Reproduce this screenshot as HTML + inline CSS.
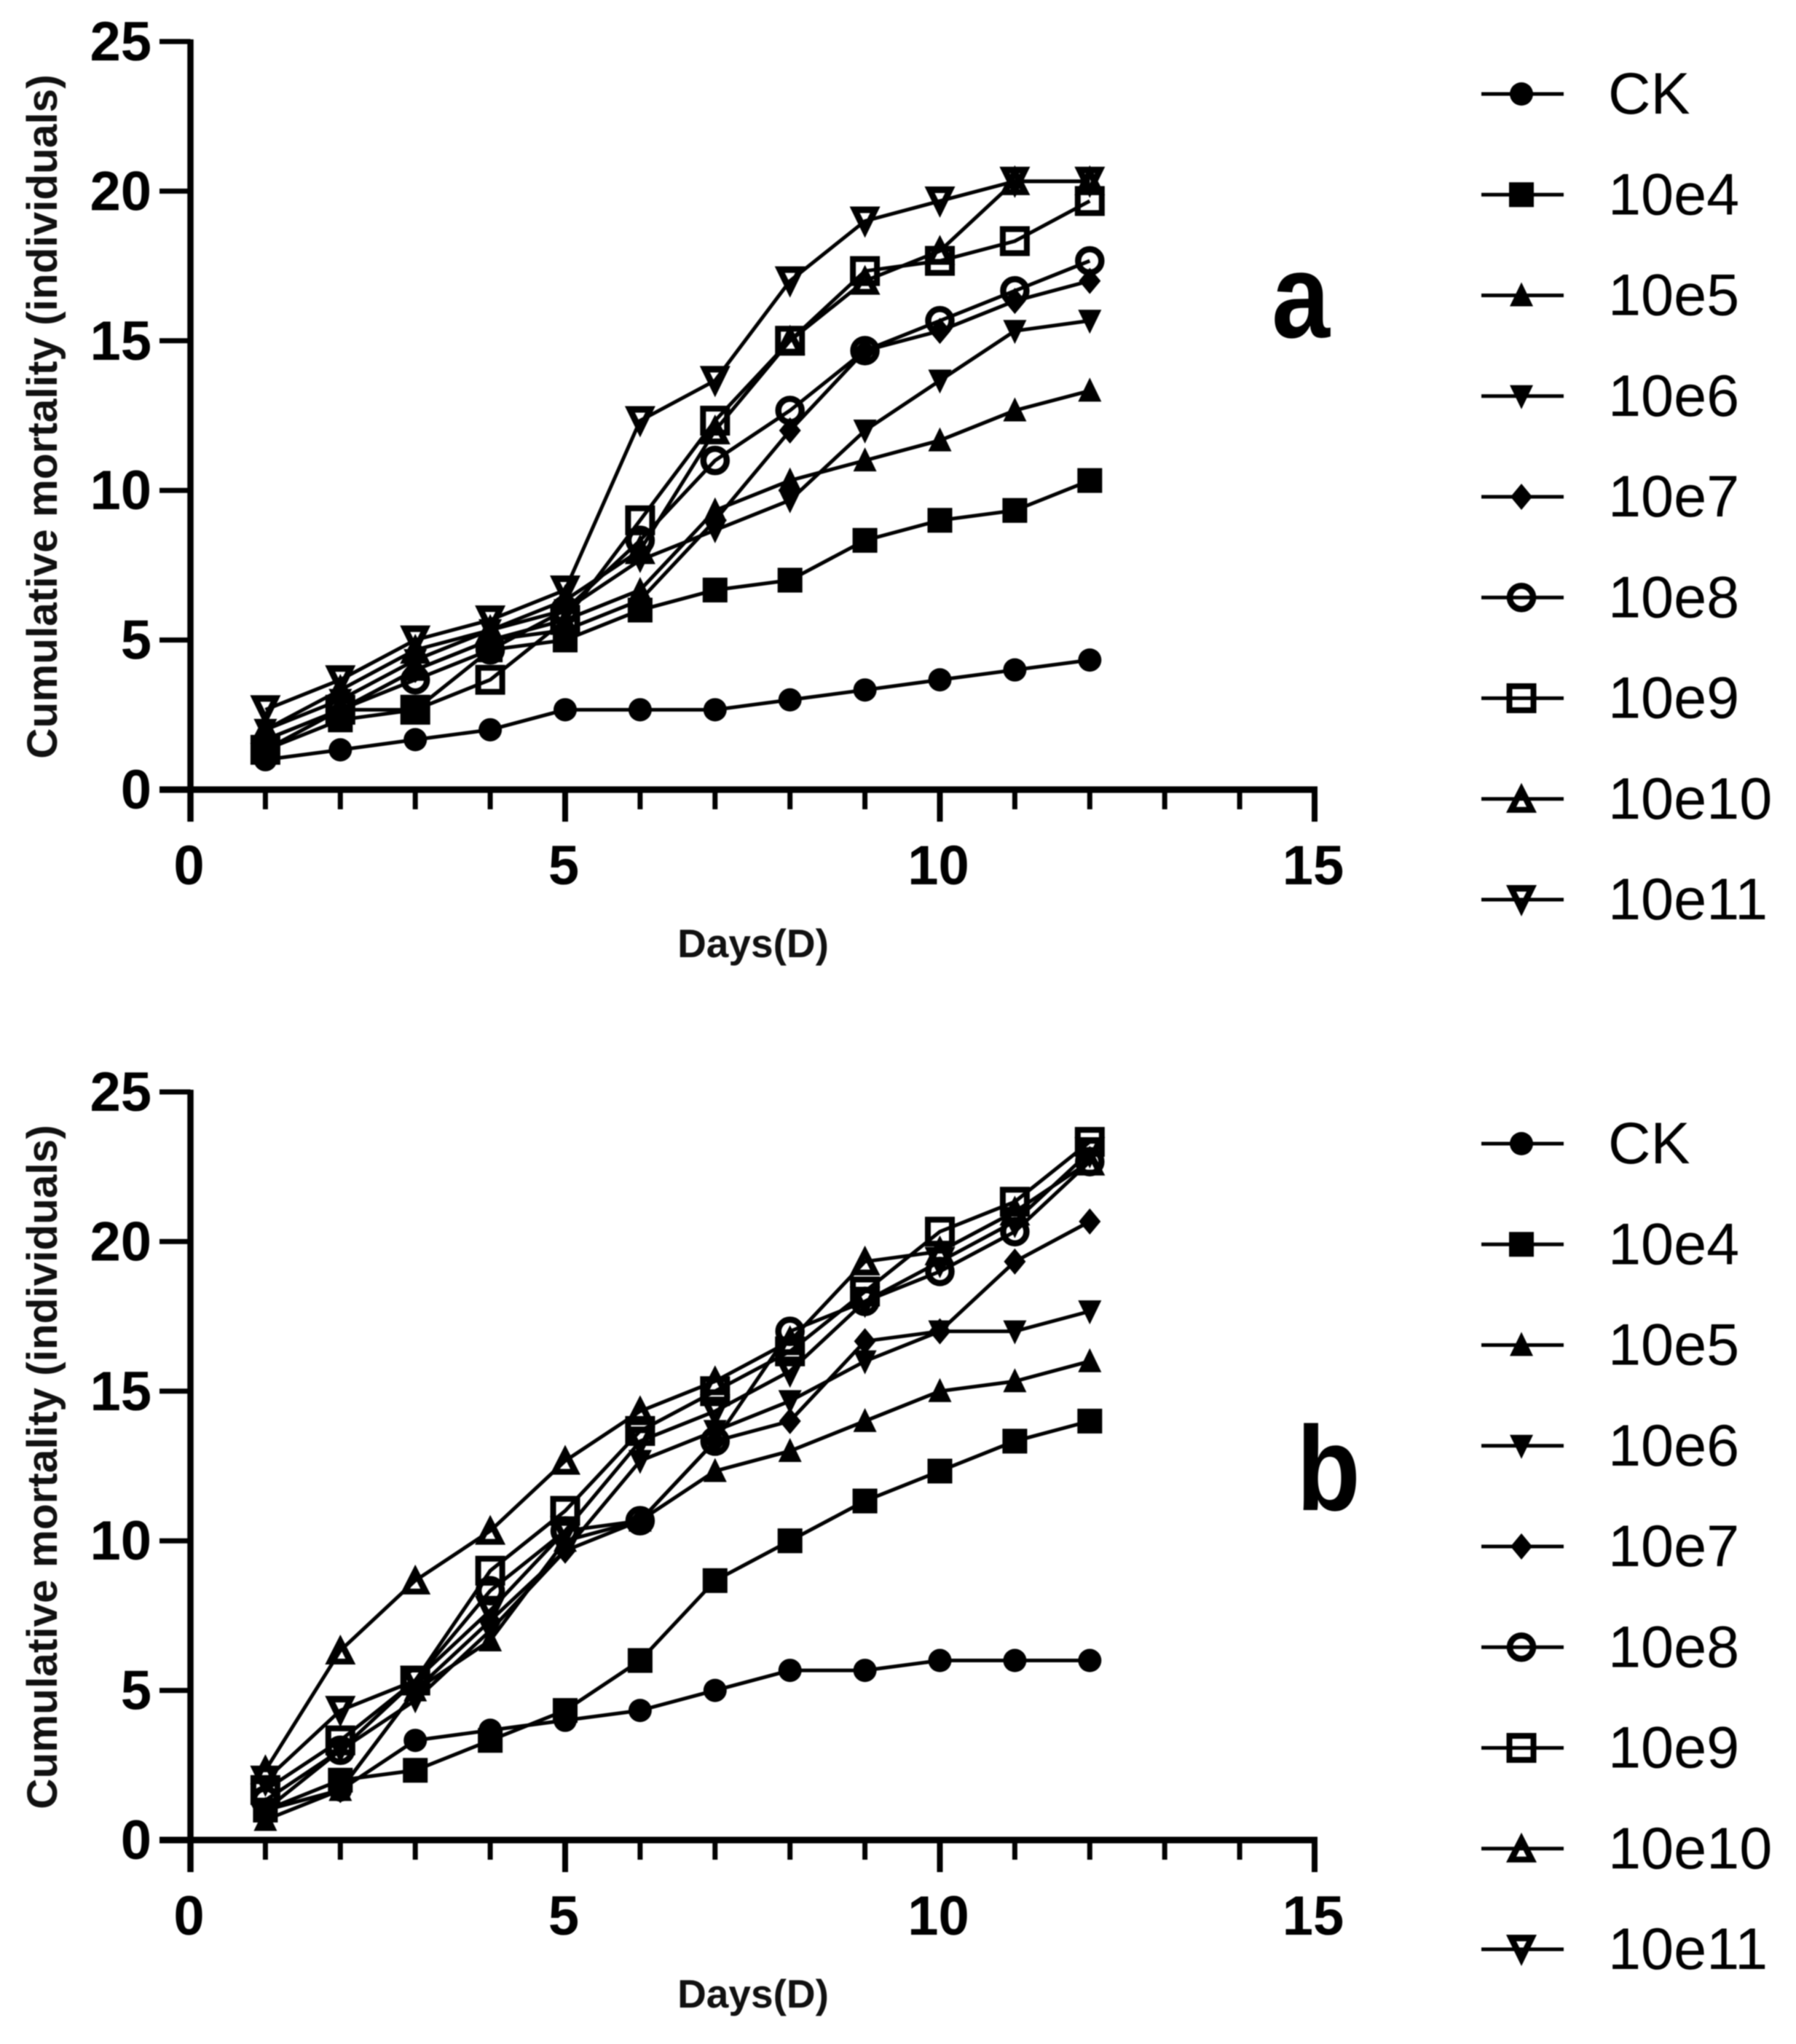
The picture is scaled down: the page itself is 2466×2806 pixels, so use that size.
<!DOCTYPE html>
<html lang="en">
<head>
<meta charset="utf-8">
<title>Cumulative mortality charts</title>
<style>
html,body{margin:0;padding:0;background:#fff;}
svg{display:block;font-family:"Liberation Sans",sans-serif;filter:blur(0.7px);}
</style>
</head>
<body>
<svg id="figure" xmlns="http://www.w3.org/2000/svg" width="2466" height="2806" viewBox="0 0 2466 2806">
<rect width="2466" height="2806" fill="#fff"/>
</svg>
<script>
// Shared categories and tick labels
const days = [1,2,3,4,5,6,7,8,9,10,11,12];
const seriesNames = ["CK","10e4","10e5","10e6","10e7","10e8","10e9","10e10","10e11"];
const xMajorTicks = [0,5,10,15];
const xMinorTicks = [1,2,3,4,6,7,8,9,11,12,13,14];
const yTicks = [0,5,10,15,20,25];

// Panel a values
const aCK    = [1,1.33,1.67,2,2.67,2.67,2.67,3,3.33,3.67,4,4.33];
const a10e4  = [1.33,2.33,2.67,4.67,5,6,6.67,7,8.33,9,9.33,10.33];
const a10e5  = [1.67,2.67,4,5,5.67,6.67,9.33,10.33,11,11.67,12.67,13.33];
const a10e6  = [2,3,4.33,5.33,6,7.67,8.67,9.67,12,13.67,15.33,15.67];
const a10e7  = [1.67,2.67,4,5,5.33,6.33,9,12,14.67,15.33,16.33,17];
const a10e8  = [1.33,2.67,3.67,4.67,6,8.33,11,12.67,14.67,15.67,16.67,17.67];
const a10e9  = [1.33,2.67,2.67,3.67,5.67,9,12.33,15,17.33,17.67,18.33,19.67];
const a10e10 = [2,3.33,4.67,5.33,6.33,8,12,15,17,18,20.33,20.33];
const a10e11 = [2.67,3.67,5,5.67,6.67,12.33,13.67,17,19,19.67,20.33,20.33];

// Panel b values
const bCK    = [1,1.67,3.33,3.67,4,4.33,5,5.67,5.67,6,6,6];
const b10e4  = [1,2,2.33,3.33,4.33,6,8.67,10,11.33,12.33,13.33,14];
const b10e5  = [0.67,1.67,5,6.67,10,10.67,12.33,13,14,15,15.33,16];
const b10e6  = [1,3,4.67,7,9.67,12.67,13.67,14.67,16,17,17,17.67];
const b10e7  = [1,1.67,5,7.33,9.67,10.67,13.33,14,16.67,17,19.33,20.67];
const b10e8  = [1.33,3,5.33,8.33,10.33,10.67,13.33,17,18,19,20.33,22.67];
const b10e9  = [1.67,3.33,5.33,9,11,13.67,15,16.33,18.33,20.33,21.33,23.33];
const b10e10 = [2.33,6.33,8.67,10.33,12.67,14.33,15.33,16.67,19.33,19.67,21,22.67];
const b10e11 = [2,4.33,5.33,7.67,10.33,13.33,14.33,15.67,18,19.33,20.67,23];

const panelASeries = [aCK,a10e4,a10e5,a10e6,a10e7,a10e8,a10e9,a10e10,a10e11];
const panelBSeries = [bCK,b10e4,b10e5,b10e6,b10e7,b10e8,b10e9,b10e10,b10e11];
const markerShapes = ["circle","square","up","down","diamond","open-circle","open-square","open-up","open-down"];

const svg = document.getElementById('figure');
const NS = 'http://www.w3.org/2000/svg';

function make(tag, attrs, parent){
  const el = document.createElementNS(NS, tag);
  for (const k in attrs) el.setAttribute(k, attrs[k]);
  parent.appendChild(el);
  return el;
}

function marker(shape, cx, cy, parent){
  let el;
  if (shape === 'circle') {
    el = make('circle',{cx:cx,cy:cy,r:16,fill:'#000'},parent);
  } else if (shape === 'square') {
    el = make('rect',{x:cx-17,y:cy-17,width:34,height:34,fill:'#000'},parent);
  } else if (shape === 'up') {
    el = make('polygon',{points:`${cx},${cy-18} ${cx+16},${cy+15} ${cx-16},${cy+15}`,fill:'#000'},parent);
  } else if (shape === 'down') {
    el = make('polygon',{points:`${cx-16},${cy-15} ${cx+16},${cy-15} ${cx},${cy+18}`,fill:'#000'},parent);
  } else if (shape === 'diamond') {
    el = make('polygon',{points:`${cx},${cy-18} ${cx+15},${cy} ${cx},${cy+18} ${cx-15},${cy}`,fill:'#000'},parent);
  } else if (shape === 'open-circle') {
    el = make('circle',{cx:cx,cy:cy,r:16,fill:'none',stroke:'#000','stroke-width':8.5},parent);
  } else if (shape === 'open-square') {
    el = make('rect',{x:cx-16.5,y:cy-16.5,width:33,height:33,fill:'none',stroke:'#000','stroke-width':8},parent);
  } else if (shape === 'open-up') {
    el = make('path',{d:`M${cx} ${cy-22}L${cx+21} ${cy+19}L${cx-21} ${cy+19}ZM${cx} ${cy-3}L${cx-7} ${cy+11}L${cx+7} ${cy+11}Z`,fill:'#000','fill-rule':'evenodd'},parent);
  } else {
    el = make('path',{d:`M${cx-21} ${cy-20}L${cx+21} ${cy-20}L${cx} ${cy+23}ZM${cx-7} ${cy-11}L${cx+7} ${cy-11}L${cx} ${cy+3}Z`,fill:'#000','fill-rule':'evenodd'},parent);
  }
  return el;
}

function drawPanel(panelName, series, y0, legendTop, letter, letterX, letterY){
  const x = v => 261.5 + v * 102.9;
  const y = v => y0 - v * 41.08;
  const panel = make('g',{},svg);
  
  

  // axes
  const xAxis = make('line',{x1:219,x2:x(15)+4,y1:y0,y2:y0,stroke:'#000','stroke-width':9},panel);
  
  
  const yAxis = make('line',{x1:x(0),x2:x(0),y1:y(25)-3,y2:y0+44,stroke:'#000','stroke-width':8.5},panel);
  
  

  yTicks.forEach(t => {
    const tick = make('line',{x1:219,x2:x(0),y1:y(t),y2:y(t),stroke:'#000','stroke-width':7},panel);
    
    
    const lab = make('text',{x:208,y:y(t)+26,'text-anchor':'end','font-size':76,'font-weight':'bold',fill:'#000'},panel);
    lab.textContent = t;
    
    
  });
  xMinorTicks.forEach(t => {
    const tick = make('line',{x1:x(t),x2:x(t),y1:y0,y2:y0+27,stroke:'#000','stroke-width':7},panel);
    
    
  });
  xMajorTicks.forEach(t => {
    const tick = make('line',{x1:x(t),x2:x(t),y1:y0,y2:y0+44,stroke:'#000','stroke-width':8},panel);
    
    
    const lab = make('text',{x:x(t)-2,y:y0+130,'text-anchor':'middle','font-size':76,'font-weight':'bold',fill:'#000'},panel);
    lab.textContent = t;
    
    
  });

  // titles
  const xTitle = make('text',{x:1034,y:y0+230,'text-anchor':'middle','font-size':55,'font-weight':'bold',fill:'#111'},panel);
  xTitle.textContent = 'Days(D)';
  
  
  const yc = y0 - 512;
  const yTitle = make('text',{x:0,y:0,transform:`translate(78,${yc}) rotate(-90)`,'text-anchor':'middle','font-size':58.5,'font-weight':'bold',fill:'#111'},panel);
  yTitle.textContent = 'Cumulative mortality (individuals)';
  
  

  // series
  series.forEach((vals, i) => {
    const g = make('g',{},panel);
    
    
    const line = make('polyline',{points:vals.map((v,j)=>x(days[j])+','+y(v)).join(' '),fill:'none',stroke:'#000','stroke-width':5},g);
    
    
    vals.forEach((v,j) => {
      const m = marker(markerShapes[i], x(days[j]), y(v), g);
      
      
    });
  });

  // legend
  seriesNames.forEach((name, i) => {
    const ly = legendTop + i * 138.25;
    const g = make('g',{},panel);
    
    
    const sample = make('line',{x1:2034,x2:2147,y1:ly,y2:ly,stroke:'#000','stroke-width':5},g);
    
    
    const sym = marker(markerShapes[i], 2089, ly, g);
    
    
    const txt = make('text',{x:2208,y:ly+27,'font-size':81,fill:'#000'},g);
    txt.textContent = name;
    
    
  });

  // panel letter
  const tag = make('text',{x:0,y:0,transform:`translate(${letterX},${letterY}) scale(0.87,1)`,'text-anchor':'middle','font-size':165,'font-weight':'bold',fill:'#000'},panel);
  tag.textContent = letter;
  
  
}

drawPanel('a', panelASeries, 1084, 129, 'a', 1786, 463);
drawPanel('b', panelBSeries, 2526, 1570, 'b', 1824, 2073);
</script>
</body>
</html>
